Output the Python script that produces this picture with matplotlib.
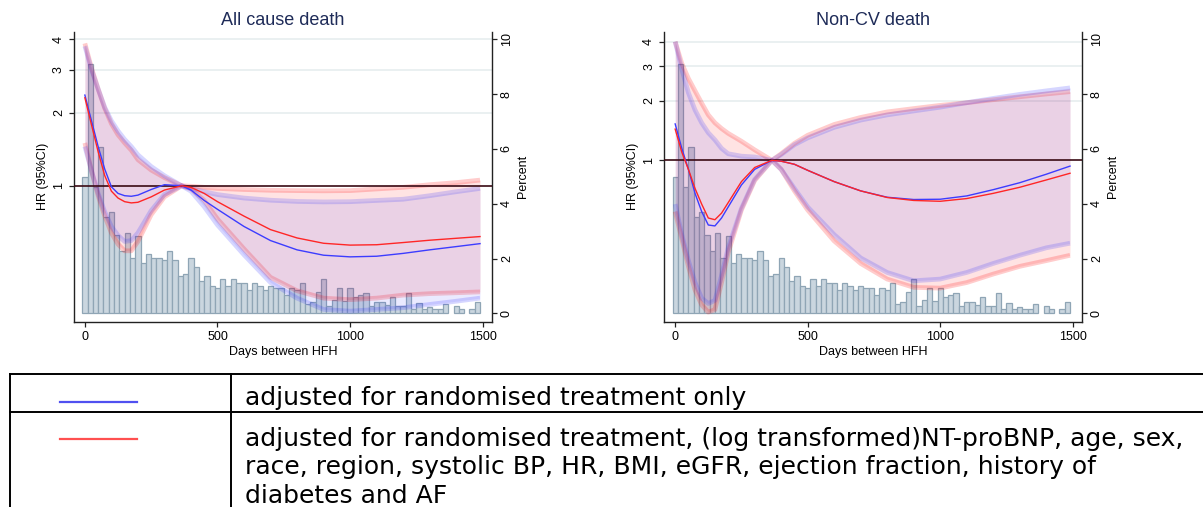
import matplotlib
matplotlib.use("Agg")
import matplotlib.pyplot as plt
import numpy as np
from matplotlib import font_manager
from matplotlib.lines import Line2D
from matplotlib.ticker import NullLocator, FixedLocator, FixedFormatter
from matplotlib.transforms import blended_transform_factory

names = {f.name for f in font_manager.fontManager.ttflist}
NARROW = "Liberation Sans Narrow" if "Liberation Sans Narrow" in names else "Liberation Sans"
plt.rcParams["font.family"] = "Liberation Sans"

# histogram of days between HFH (percent per 20-day bin), same in both panels
hist_pct = [4.96, 9.1, 4.6, 6.06, 3.53, 3.69, 2.85, 2.27, 2.92, 2.01,
            2.83, 1.82, 2.18, 2.01, 2.01, 1.93, 2.26, 1.93, 1.35, 1.42,
            2.01, 1.68, 1.17, 1.35, 0.99, 0.91, 1.24, 0.99, 1.24, 1.09,
            1.09, 0.84, 1.09, 0.99, 0.84, 0.99, 0.91, 0.91, 0.67, 0.91,
            0.84, 1.09, 0.35, 0.43, 0.78, 1.25, 0.25, 0.49, 0.93, 0.45,
            0.92, 0.61, 0.67, 0.73, 0.25, 0.43, 0.43, 0.31, 0.58, 0.25,
            0.25, 0.73, 0.17, 0.39, 0.15, 0.24, 0.15, 0.15, 0.34, 0.0,
            0.27, 0.15, 0.0, 0.15, 0.42]
bin_width = 20

days = [0, 25, 50, 75, 100, 125, 150, 175, 200, 250, 300, 365, 400, 450,
        500, 600, 700, 800, 900, 1000, 1100, 1200, 1300, 1400, 1490]

# All cause death
acd_blue = [2.36, 1.85, 1.45, 1.17, 0.99, 0.93, 0.91, 0.905, 0.915, 0.965, 1.01, 1.0, 0.96, 0.87,
            0.80, 0.68, 0.595, 0.545, 0.518, 0.51, 0.513, 0.527, 0.545, 0.562, 0.578]
acd_red = [2.30, 1.78, 1.38, 1.10, 0.95, 0.89, 0.86, 0.85, 0.855, 0.90, 0.96, 1.0, 0.985, 0.93,
           0.86, 0.75, 0.66, 0.61, 0.58, 0.57, 0.572, 0.584, 0.597, 0.608, 0.618]
acd_blue_hi = [3.75, 3.0, 2.5, 2.1, 1.85, 1.68, 1.55, 1.45, 1.34, 1.2, 1.1, 1.0, 0.975, 0.945,
               0.92, 0.89, 0.872, 0.862, 0.858, 0.86, 0.87, 0.88, 0.91, 0.945, 0.975]
acd_blue_lo = [1.45, 1.15, 0.93, 0.78, 0.68, 0.625, 0.59, 0.595, 0.64, 0.79, 0.92, 1.0, 0.95, 0.82,
               0.69, 0.52, 0.40, 0.345, 0.31, 0.305, 0.31, 0.315, 0.325, 0.335, 0.345]
acd_red_hi = [3.85, 3.05, 2.5, 2.08, 1.8, 1.62, 1.5, 1.4, 1.28, 1.16, 1.08, 1.0, 0.995, 0.985,
              0.975, 0.965, 0.958, 0.955, 0.953, 0.955, 0.97, 0.985, 1.01, 1.03, 1.055]
acd_red_lo = [1.5, 1.15, 0.91, 0.75, 0.64, 0.575, 0.54, 0.54, 0.59, 0.76, 0.9, 1.0, 0.97, 0.87,
              0.73, 0.55, 0.42, 0.37, 0.345, 0.34, 0.345, 0.355, 0.36, 0.363, 0.366]

# Non-CV death
ncv_blue = [1.53, 1.15, 0.90, 0.68, 0.55, 0.47, 0.465, 0.51, 0.58, 0.75, 0.9, 1.0, 0.99, 0.955,
            0.89, 0.78, 0.70, 0.65, 0.633, 0.635, 0.66, 0.71, 0.77, 0.85, 0.935]
ncv_red = [1.44, 1.10, 0.90, 0.72, 0.60, 0.51, 0.50, 0.54, 0.61, 0.78, 0.92, 1.0, 0.99, 0.955,
           0.89, 0.78, 0.70, 0.648, 0.626, 0.62, 0.64, 0.68, 0.73, 0.795, 0.86]
ncv_blue_hi = [4.0, 2.9, 2.2, 1.8, 1.55, 1.38, 1.27, 1.15, 1.08, 1.05, 1.04, 1.0, 1.07, 1.2,
               1.3, 1.47, 1.6, 1.7, 1.78, 1.86, 1.96, 2.06, 2.16, 2.25, 2.33]
ncv_blue_lo = [0.6, 0.42, 0.31, 0.24, 0.2, 0.188, 0.195, 0.26, 0.36, 0.57, 0.8, 1.0, 0.9, 0.72,
               0.58, 0.42, 0.32, 0.27, 0.245, 0.25, 0.27, 0.3, 0.33, 0.36, 0.38]
ncv_red_hi = [4.0, 3.1, 2.6, 2.25, 1.95, 1.7, 1.55, 1.45, 1.37, 1.25, 1.13, 1.0, 1.08, 1.22,
              1.34, 1.52, 1.65, 1.76, 1.83, 1.9, 1.96, 2.03, 2.1, 2.17, 2.23]
ncv_red_lo = [0.55, 0.4, 0.29, 0.22, 0.185, 0.17, 0.175, 0.24, 0.34, 0.56, 0.79, 1.0, 0.9, 0.7,
              0.56, 0.39, 0.3, 0.25, 0.227, 0.225, 0.24, 0.265, 0.29, 0.31, 0.33]

legend_rows = ["adjusted for randomised treatment only",
               ["adjusted for randomised treatment, (log transformed)NT-proBNP, age, sex,",
                "race, region, systolic BP, HR, BMI, eGFR, ejection fraction, history of",
                "diabetes and AF"]]

W, H = 1203, 507
fig = plt.figure(figsize=(W / 100, H / 100), dpi=100)

BLUE = "#3c3cff"
RED = "#ff2626"
TICK = dict(direction="out", length=3.6, width=0.9, color="#222222")


def px_axes(x0, y0, x1, y1):
    return fig.add_axes([x0 / W, 1 - y1 / H, (x1 - x0) / W, (y1 - y0) / H])


def panel(box, title, hr_lim, blue, red, blue_lo, blue_hi, red_lo, red_hi):
    ax_p = px_axes(*box)
    ax_h = ax_p.twinx()

    # percent axis (right) with histogram
    centers = np.arange(len(hist_pct)) * bin_width
    pct = np.array(hist_pct)
    keep = pct > 0
    ax_p.bar(centers[keep], pct[keep], width=bin_width, facecolor="#cad6df",
             edgecolor="#8fa5b5", lw=0.9, zorder=2)
    ax_p.set_xlim(-41, 1534)
    ax_p.set_ylim(-0.307, 10.28)
    ax_p.yaxis.tick_right()
    ax_p.yaxis.set_label_position("right")
    ax_p.set_yticks([0, 2, 4, 6, 8, 10])
    ax_p.set_xticks([0, 500, 1000, 1500])
    ax_p.tick_params(axis="x", labelsize=9, pad=3.2, **TICK)
    ax_p.tick_params(axis="y", labelsize=9, pad=3.0, labelrotation=90, **TICK)
    for lab in ax_p.get_xticklabels():
        lab.set_fontfamily(NARROW)
    for lab in ax_p.get_yticklabels():
        lab.set_va("center")
    ax_p.set_ylabel("Percent", fontsize=9, labelpad=3)
    ax_p.set_xlabel("Days between HFH", fontsize=9, family=NARROW, labelpad=2)
    ax_p.spines["top"].set_visible(False)
    for s in ("left", "right", "bottom"):
        ax_p.spines[s].set_color("#222222")
        ax_p.spines[s].set_linewidth(1.0)

    # light gridlines at the HR ticks, under the bars
    tr = blended_transform_factory(ax_p.transAxes, ax_h.transData)
    for v in (2, 3, 4):
        ax_p.plot([0, 1], [v, v], transform=tr, color="#e8eff0", lw=1.3, zorder=0)

    # HR axis (left, log)
    ax_h.set_yscale("log")
    ax_h.set_ylim(*hr_lim)
    ax_h.yaxis.tick_left()
    ax_h.yaxis.set_label_position("left")
    ax_h.yaxis.set_major_locator(FixedLocator([1, 2, 3, 4]))
    ax_h.yaxis.set_major_formatter(FixedFormatter(["1", "2", "3", "4"]))
    ax_h.yaxis.set_minor_locator(NullLocator())
    ax_h.tick_params(axis="y", labelsize=9, pad=3.0, labelrotation=90, **TICK)
    for lab in ax_h.get_yticklabels():
        lab.set_va("center")
    ax_h.set_ylabel("HR (95%CI)", fontsize=9, labelpad=3)
    for s in ax_h.spines.values():
        s.set_visible(False)

    for lo, hi, c, a in ((red_lo, red_hi, "#ff0000", 0.11), (blue_lo, blue_hi, "#2020ff", 0.09)):
        ax_h.fill_between(days, lo, hi, color=c, alpha=a, lw=0, zorder=2)
        ax_h.plot(days, lo, color=c, alpha=a + 0.09, lw=3.4, zorder=2, solid_capstyle="butt")
        ax_h.plot(days, hi, color=c, alpha=a + 0.09, lw=3.4, zorder=2, solid_capstyle="butt")

    ax_h.axhline(1, color="#3a0a14", lw=1.2, zorder=3)
    ax_h.plot(days, blue, color=BLUE, lw=1.0, zorder=4)
    ax_h.plot(days, red, color=RED, lw=1.0, zorder=4)
    ax_h.set_title(title, fontsize=13, color="#1e2b58", pad=5)


panel((74, 31.7, 491.7, 321.7), "All cause death", (0.276, 4.30),
      acd_blue, acd_red, acd_blue_lo, acd_blue_hi, acd_red_lo, acd_red_hi)
panel((664.3, 31.7, 1081.7, 321.7), "Non-CV death", (0.152, 4.49),
      ncv_blue, ncv_red, ncv_blue_lo, ncv_blue_hi, ncv_red_lo, ncv_red_hi)


# legend table under the charts
def fx(x):
    return x / W


def fy(y):
    return 1 - y / H


for y in (374, 411.7):
    fig.add_artist(Line2D([fx(10), 1], [fy(y), fy(y)], color="black", lw=1.4))
for x in (10, 231):
    fig.add_artist(Line2D([fx(x), fx(x)], [fy(374), 0], color="black", lw=1.4))
fig.add_artist(Line2D([fx(60), fx(137)], [fy(401.7), fy(401.7)], color="#5050f0", lw=1.6))
fig.add_artist(Line2D([fx(60), fx(137)], [fy(439), fy(439)], color="#ff5050", lw=1.6))

LEG = dict(fontsize=18, family="DejaVu Sans", va="baseline", ha="left", color="black")
fig.text(fx(245), fy(405), legend_rows[0], **LEG)
for line, yb in zip(legend_rows[1], (446, 474.3, 502.7)):
    fig.text(fx(245), fy(yb), line, **LEG)

fig.savefig("out.png", dpi=100)
